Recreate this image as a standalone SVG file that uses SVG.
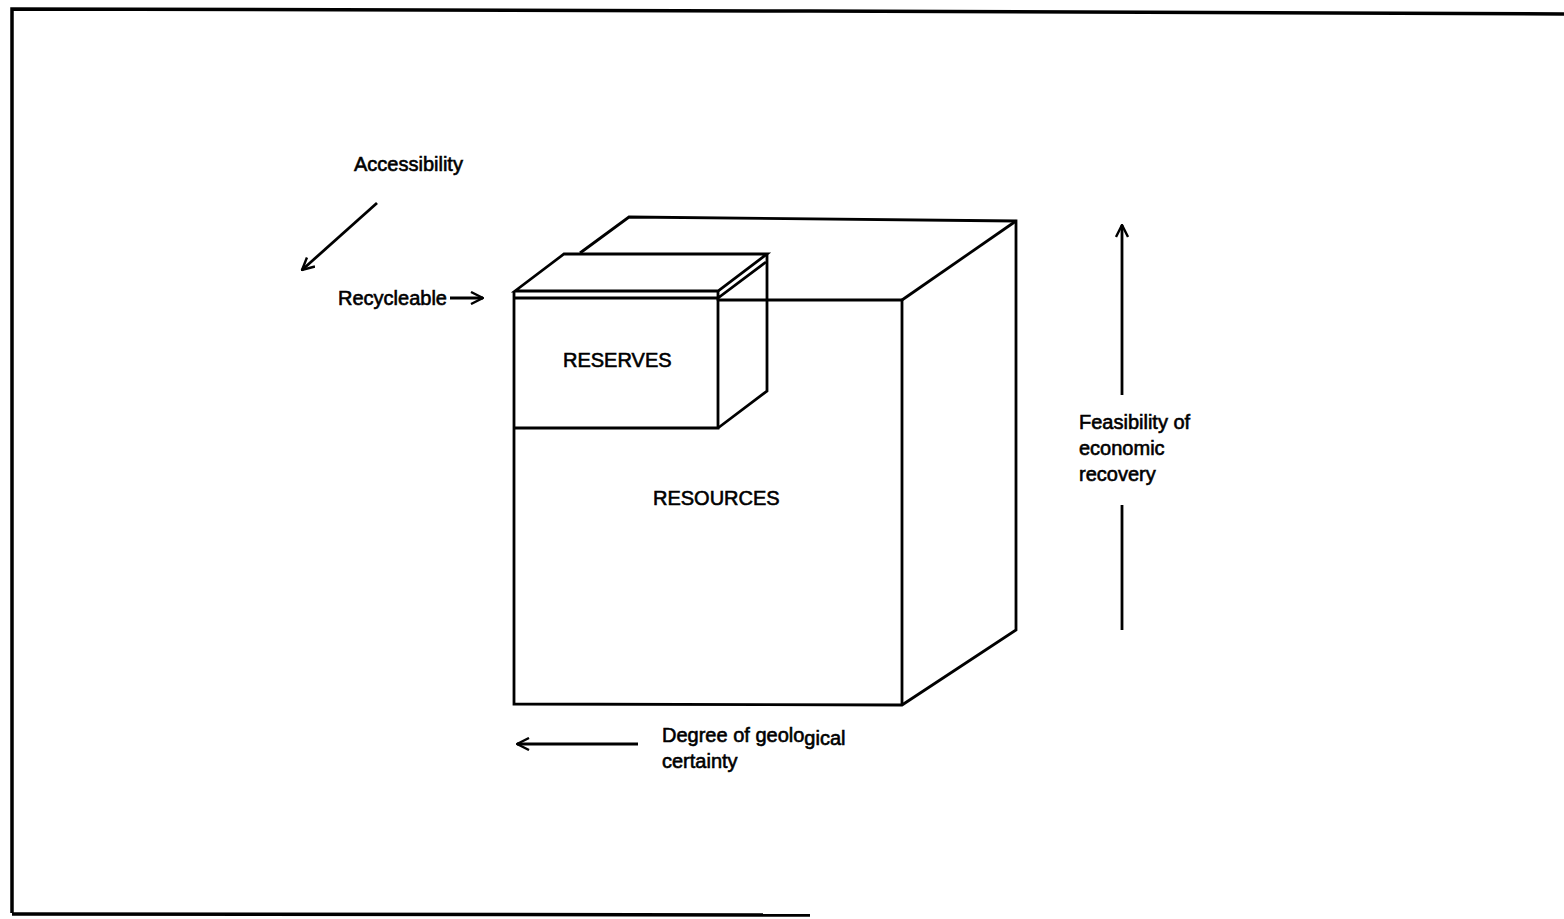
<svg xmlns="http://www.w3.org/2000/svg" width="1564" height="919" viewBox="0 0 1564 919">
  <style>
    .ln { fill: none; stroke: #000; stroke-width: 2.8; stroke-linejoin: miter; stroke-linecap: butt; }
    .frame { fill: none; stroke: #000; stroke-width: 3.5; }
    .lbl { font-family: "Liberation Sans", Arial, sans-serif; font-size: 20px; fill: #000; stroke: #000; stroke-width: 0.6; }
  </style>
  <defs>
    <marker id="head" viewBox="0 0 14 14" refX="13" refY="7" markerWidth="14" markerHeight="14" markerUnits="userSpaceOnUse" orient="auto">
      <path d="M1,1 L13,7 L1,13" fill="none" stroke="#000" stroke-width="2.4"/>
    </marker>
  </defs>
  <rect width="1564" height="919" fill="#fff"/>

  <!-- page frame -->
  <path class="frame" d="M12,913 L12,9 L810,11 L1564,14"/>
  <path class="frame" d="M12,914 L810,915"/>

  <!-- resources block -->
  <g id="resources">
    <path class="ln" d="M580,253 L629,217 L1016,221 L1016,630 L902,705 L514,704 L514,292"/>
    <path class="ln" d="M718,300 L902,300 L902,705"/>
    <path class="ln" d="M902,300 L1016,221"/>
    <text class="lbl" x="653" y="505">RESOURCES</text>
  </g>

  <!-- reserves block -->
  <g id="reserves">
    <path class="ln" d="M515,291 L564,254 L767,254 L718,291 Z"/>
    <path class="ln" d="M515,298 L718,298 L718,428 L515,428"/>
    <path class="ln" d="M718,291 L718,298 L766,262"/>
    <path class="ln" d="M767,254 L767,391 L718,428"/>
    <text class="lbl" x="563" y="367">RESERVES</text>
  </g>

  <!-- axis labels -->
  <g id="accessibility">
    <text class="lbl" x="354" y="171">Accessibility</text>
  </g>
  <g id="recycleable">
    <text class="lbl" x="338" y="305">Recycleable</text>
  </g>
  <g id="feasibility">
    <text class="lbl" x="1079" y="429">Feasibility of</text>
    <text class="lbl" x="1079" y="455">economic</text>
    <text class="lbl" x="1079" y="481">recovery</text>
  </g>
  <g id="certainty">
    <text class="lbl" x="662" y="742">Degree of geolo<tspan dy="3">gical</tspan></text>
    <text class="lbl" x="662" y="768">certainty</text>
  </g>

  <!-- connectors -->
  <g id="connectors">
    <line class="ln" x1="377" y1="203" x2="302" y2="270" marker-end="url(#head)"/>
    <line class="ln" x1="450" y1="298" x2="483" y2="298" marker-end="url(#head)"/>
    <line class="ln" x1="1122" y1="395" x2="1122" y2="225" marker-end="url(#head)"/>
    <line class="ln" x1="1122" y1="505" x2="1122" y2="630"/>
    <line class="ln" x1="638" y1="744" x2="517" y2="744" marker-end="url(#head)"/>
  </g>
</svg>
